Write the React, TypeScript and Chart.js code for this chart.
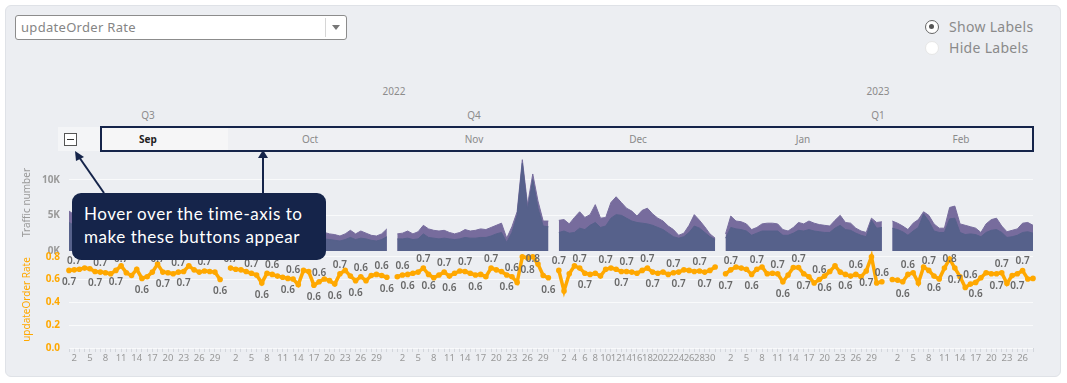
import React, { useEffect, useRef } from 'react';
import { Chart, registerables } from 'chart.js';

Chart.register(...registerables);

// ---------- data ----------
const monthNames = ['Sep', 'Oct', 'Nov', 'Dec', 'Jan', 'Feb'];

// updateOrder Rate, daily
const rateSep = [0.68, 0.685, 0.69, 0.70, 0.695, 0.67, 0.665, 0.66, 0.65, 0.68, 0.72, 0.66, 0.635, 0.69, 0.61, 0.625, 0.665, 0.735, 0.665, 0.66, 0.65, 0.665, 0.67, 0.72, 0.685, 0.665, 0.675, 0.67, 0.665, 0.60];
const rateOct = [0.70, 0.69, 0.685, 0.67, 0.655, 0.64, 0.57, 0.655, 0.645, 0.63, 0.62, 0.61, 0.605, 0.555, 0.68, 0.67, 0.55, 0.58, 0.605, 0.59, 0.56, 0.65, 0.68, 0.63, 0.59, 0.625, 0.59, 0.635, 0.645, 0.635, 0.62];
const rateNov = [0.625, 0.64, 0.645, 0.655, 0.665, 0.70, 0.645, 0.615, 0.64, 0.665, 0.63, 0.655, 0.675, 0.67, 0.655, 0.64, 0.645, 0.625, 0.70, 0.685, 0.67, 0.64, 0.625, 0.575, 0.80, 0.79, 0.80, 0.735, 0.635, 0.615];
const rateDec = [0.68, 0.50, 0.65, 0.72, 0.70, 0.655, 0.645, 0.655, 0.63, 0.69, 0.70, 0.69, 0.67, 0.67, 0.665, 0.655, 0.68, 0.70, 0.665, 0.655, 0.665, 0.645, 0.66, 0.665, 0.685, 0.68, 0.67, 0.675, 0.665, 0.68, 0.71];
const rateJan = [0.65, 0.685, 0.71, 0.70, 0.69, 0.645, 0.69, 0.71, 0.65, 0.655, 0.65, 0.58, 0.64, 0.705, 0.705, 0.65, 0.625, 0.57, 0.60, 0.63, 0.67, 0.72, 0.665, 0.645, 0.63, 0.645, 0.625, 0.675, 0.80, 0.57, 0.58];
const rateFeb = [0.60, 0.595, 0.58, 0.645, 0.66, 0.57, 0.71, 0.68, 0.63, 0.605, 0.70, 0.78, 0.70, 0.625, 0.53, 0.56, 0.575, 0.615, 0.66, 0.65, 0.65, 0.66, 0.565, 0.635, 0.65, 0.678, 0.605, 0.61];

// Traffic number (thousands), total
const totalSep = [5.6, 5.1, 4.8, 5.0, 4.6, 4.3, 4.5, 4.2, 4.0, 4.3, 4.1, 3.9, 3.6, 3.8, 4.0, 3.7, 3.5, 3.6, 3.9, 3.4, 3.2, 3.5, 3.3, 3.1, 3.4, 3.2, 3.0, 2.9, 3.3, 3.1];
const totalOct = [3.2, 3.0, 3.4, 3.1, 2.9, 2.8, 3.3, 3.0, 2.7, 2.9, 3.1, 2.8, 2.6, 2.9, 3.0, 2.7, 2.6, 2.5, 2.6, 2.4, 2.3, 2.1, 2.4, 2.9, 2.4, 2.8, 2.5, 2.2, 2.1, 2.4, 3.1];
const totalNov = [2.4, 2.5, 2.8, 2.4, 2.7, 3.6, 3.1, 2.9, 2.8, 2.9, 2.6, 2.4, 2.6, 3.0, 2.8, 2.9, 3.1, 3.0, 3.3, 3.6, 3.9, 1.8, 3.4, 5.5, 12.8, 6.5, 10.8, 7.0, 4.2, 4.2];
const totalDec = [4.3, 4.4, 3.8, 4.7, 5.5, 4.7, 5.1, 6.5, 4.6, 4.7, 6.8, 7.6, 6.8, 6.0, 5.6, 4.9, 5.7, 6.0, 5.2, 4.6, 4.2, 3.5, 3.0, 2.2, 2.5, 3.6, 5.1, 4.3, 3.4, 2.4, 1.8];
const totalJan = [2.4, 4.9, 4.2, 4.1, 3.8, 3.0, 3.3, 3.8, 3.9, 3.9, 3.8, 3.0, 2.8, 3.3, 4.0, 3.8, 4.2, 3.9, 3.7, 3.6, 3.5, 4.3, 5.0, 4.0, 3.9, 3.2, 2.8, 2.6, 4.6, 4.0, 4.1];
const totalFeb = [4.2, 3.9, 3.5, 3.0, 3.9, 4.4, 5.5, 5.0, 3.8, 3.2, 3.2, 6.1, 6.3, 3.8, 3.6, 3.4, 3.2, 2.6, 3.8, 4.4, 4.6, 3.5, 2.7, 2.9, 3.1, 3.9, 4.0, 3.6];

// Traffic number (thousands), lower segment
const baseSep = [4.0, 3.6, 3.4, 3.5, 3.2, 3.0, 3.1, 2.9, 2.8, 3.0, 2.8, 2.7, 2.5, 2.6, 2.8, 2.5, 2.4, 2.5, 2.7, 2.3, 2.2, 2.4, 2.3, 2.1, 2.3, 2.2, 2.0, 1.9, 2.2, 2.1];
const baseOct = [2.0, 1.9, 2.1, 1.9, 1.8, 1.8, 2.0, 1.9, 1.7, 1.8, 1.9, 1.7, 1.6, 1.8, 1.9, 1.7, 1.6, 1.6, 1.7, 1.6, 1.5, 1.4, 1.6, 1.9, 1.6, 1.8, 1.7, 1.5, 1.4, 1.6, 2.0];
const baseNov = [1.7, 1.7, 1.8, 1.6, 1.7, 2.4, 1.9, 1.8, 1.7, 1.8, 1.7, 1.6, 1.7, 1.9, 1.8, 1.8, 1.9, 1.9, 2.1, 2.4, 2.6, 1.2, 2.6, 5.0, 12.3, 5.8, 10.0, 6.0, 3.5, 3.4];
const baseDec = [2.6, 2.8, 2.5, 2.6, 3.2, 3.0, 3.6, 4.0, 3.3, 3.5, 4.6, 5.1, 5.0, 4.6, 4.2, 4.0, 3.9, 3.8, 3.6, 3.3, 3.0, 2.5, 2.0, 1.8, 2.0, 2.6, 3.5, 3.2, 2.6, 2.0, 1.6];
const baseJan = [1.8, 3.3, 3.1, 3.0, 2.8, 2.2, 2.5, 2.8, 2.8, 2.8, 2.8, 2.2, 2.2, 2.5, 2.9, 2.8, 3.0, 2.8, 2.7, 2.6, 2.6, 3.2, 3.6, 3.0, 2.9, 2.5, 2.2, 2.0, 4.3, 3.2, 3.3];
const baseFeb = [3.2, 3.0, 2.7, 2.2, 2.8, 3.3, 5.2, 4.2, 2.8, 2.6, 2.6, 4.5, 4.6, 2.6, 2.3, 2.4, 2.3, 2.0, 2.6, 2.9, 3.0, 2.6, 1.9, 2.0, 2.2, 2.6, 2.7, 2.5];

const rateByMonth = [rateSep, rateOct, rateNov, rateDec, rateJan, rateFeb];
const totalByMonth = [totalSep, totalOct, totalNov, totalDec, totalJan, totalFeb];
const baseByMonth = [baseSep, baseOct, baseNov, baseDec, baseJan, baseFeb];

const trafficTicks = [0, 5, 10];
const rateTicks = [0, 0.2, 0.4, 0.6, 0.8];

const yearLabels = [
  { text: '2022', x: 394 },
  { text: '2023', x: 878 },
];
const quarterLabels = [
  { text: 'Q3', x: 148 },
  { text: 'Q4', x: 474 },
  { text: 'Q1', x: 878 },
];
const monthCenters = [148, 310, 474, 638, 803, 961];

const ORANGE = '#FFA800';
const NAVY = '#15244a';
const FONT = "'Noto Sans', 'DejaVu Sans', sans-serif";

const rateLabelPlugin = {
  id: 'rateLabels',
  afterDatasetsDraw(chart: any) {
    const meta = chart.getDatasetMeta(0);
    const data = chart.data.datasets[0].data as (number | null)[];
    const ctx = chart.ctx;
    const top = chart.scales.yRate.top;
    ctx.save();
    ctx.font = `600 10px ${FONT}`;
    ctx.fillStyle = '#686868';
    ctx.textAlign = 'center';
    ctx.textBaseline = 'middle';
    let lastA = -1e9;
    let lastB = -1e9;
    const gap = 17;
    meta.data.forEach((pt: any, i: number) => {
      const v = data[i];
      if (v == null) return;
      const nb: number[] = [];
      if (data[i - 1] != null) nb.push(data[i - 1] as number);
      if (data[i + 1] != null) nb.push(data[i + 1] as number);
      const avg = nb.length ? nb.reduce((a, b) => a + b, 0) / nb.length : v;
      const above = v >= avg;
      const txt = (Math.round(v * 10) / 10).toFixed(1);
      if (above && pt.x - lastA >= gap) {
        ctx.fillText(txt, pt.x, Math.max(pt.y - 9, top + 8));
        lastA = pt.x;
      } else if (!above && pt.x - lastB >= gap) {
        ctx.fillText(txt, pt.x, pt.y + 12);
        lastB = pt.x;
      }
    });
    ctx.restore();
  },
};

const noPad = (s: any) => {
  s.paddingTop = 0;
  s.paddingBottom = 0;
  s.paddingLeft = 0;
  s.paddingRight = 0;
};

export default function App() {
  const ref = useRef<HTMLCanvasElement>(null);

  useEffect(() => {
    const labels: string[] = [];
    const tickText: string[] = [];
    const rate: (number | null)[] = [];
    const total: (number | null)[] = [];
    const base: (number | null)[] = [];
    monthNames.forEach((m, mi) => {
      if (mi > 0) {
        labels.push('');
        tickText.push('');
        rate.push(null);
        total.push(null);
        base.push(null);
      }
      rateByMonth[mi].forEach((v, di) => {
        const day = di + 1;
        labels.push(`${m} ${day}`);
        const show = m === 'Dec' ? day % 2 === 0 : day % 3 === 2;
        tickText.push(show ? String(day) : '');
        rate.push(v);
        total.push(totalByMonth[mi][di]);
        base.push(baseByMonth[mi][di]);
      });
    });

    Chart.defaults.font.family = FONT;

    const chart = new Chart(ref.current as HTMLCanvasElement, {
      type: 'line',
      data: {
        labels,
        datasets: [
          {
            label: 'updateOrder Rate',
            data: rate,
            yAxisID: 'yRate',
            borderColor: ORANGE,
            backgroundColor: ORANGE,
            borderWidth: 3.5,
            pointRadius: 2.8,
            pointBorderWidth: 0,
            pointBackgroundColor: ORANGE,
            fill: false,
            spanGaps: false,
            tension: 0,
          },
          {
            label: 'Traffic base',
            data: base,
            yAxisID: 'yTraffic',
            borderColor: '#56618b',
            backgroundColor: '#56618b',
            borderWidth: 1,
            pointRadius: 0,
            fill: 'origin',
            spanGaps: false,
            tension: 0,
          },
          {
            label: 'Traffic number',
            data: total,
            yAxisID: 'yTraffic',
            borderColor: '#776c9d',
            backgroundColor: '#776c9d',
            borderWidth: 1,
            pointRadius: 0,
            fill: 'origin',
            spanGaps: false,
            tension: 0,
          },
        ],
      },
      options: {
        animation: false,
        responsive: false,
        maintainAspectRatio: false,
        layout: { padding: { left: 0, right: 34, top: 2, bottom: 0 } },
        plugins: { legend: { display: false }, tooltip: { enabled: false } },
        scales: {
          x: {
            type: 'category',
            offset: false,
            border: { display: false },
            grid: {
              display: true,
              drawOnChartArea: false,
              drawTicks: true,
              tickLength: 4,
              color: '#d3d6dc',
            },
            ticks: {
              autoSkip: false,
              maxRotation: 0,
              minRotation: 0,
              padding: 1,
              color: '#999999',
              font: { size: 9.5 },
              callback: (_v: any, i: number) => tickText[i],
            },
            afterFit: (s: any) => {
              noPad(s);
              s.height = 17;
            },
          },
          yTraffic: {
            type: 'linear',
            position: 'left',
            stack: 'v',
            stackWeight: 1,
            weight: 2,
            min: 0,
            max: 13.6,
            border: { display: false },
            grid: {
              drawTicks: false,
              color: (c: any) => (c.tick && c.tick.value === 0 ? 'rgba(0,0,0,0)' : 'rgba(255,255,255,0.7)'),
            },
            ticks: {
              autoSkip: false,
              padding: 9,
              color: '#9a9a9a',
              font: { size: 10, weight: 'bold' },
              callback: (v: any) => `${v}K`,
            },
            afterBuildTicks: (s: any) => {
              s.ticks = trafficTicks.map((value) => ({ value }));
            },
            title: {
              display: true,
              text: 'Traffic number',
              color: '#9a9a9a',
              font: { size: 10 },
              padding: { top: 21, bottom: 0 },
            },
            afterFit: (s: any) => {
              noPad(s);
              s.width = 69;
            },
          },
          yRate: {
            type: 'linear',
            position: 'left',
            stack: 'v',
            stackWeight: 1,
            weight: 1,
            min: 0,
            max: 0.85,
            border: { display: false },
            grid: {
              drawTicks: false,
              color: 'rgba(255,255,255,0.7)',
            },
            ticks: {
              autoSkip: false,
              padding: 9,
              color: ORANGE,
              font: { size: 10, weight: 'bold' },
              callback: (v: any) => Number(v).toFixed(1),
            },
            afterBuildTicks: (s: any) => {
              s.ticks = rateTicks.map((value) => ({ value }));
            },
            title: {
              display: true,
              text: 'updateOrder Rate',
              color: ORANGE,
              font: { size: 10 },
              padding: { top: 21, bottom: 0 },
            },
            afterFit: (s: any) => {
              noPad(s);
              s.width = 69;
            },
          },
        },
      } as any,
      plugins: [rateLabelPlugin],
    });
    return () => chart.destroy();
  }, []);

  const txt = (s: React.CSSProperties): React.CSSProperties => ({ position: 'absolute', whiteSpace: 'nowrap', ...s });

  return (
    <div style={{ position: 'absolute', left: 0, top: 0, width: 1067, height: 383, background: '#fff', overflow: 'hidden', fontFamily: FONT }}>
      {/* panel */}
      <div style={{ position: 'absolute', left: 5, top: 5, width: 1056, height: 372, background: '#eceef2', border: '1px solid #dfe2e7', borderRadius: 6, boxSizing: 'border-box' }} />

      {/* dropdown */}
      <div style={{ position: 'absolute', left: 15, top: 15, width: 332, height: 25, background: '#fff', border: '1px solid #8c8c8c', borderRadius: 3, boxSizing: 'border-box' }}>
        <div style={txt({ left: 5, top: 3, fontSize: 13, color: '#858585', lineHeight: '17px', letterSpacing: 0.3 })}>updateOrder Rate</div>
        <div style={{ position: 'absolute', left: 309, top: 2, width: 1, height: 19, background: '#d6d6d6' }} />
        <div style={{ position: 'absolute', left: 316, top: 9, width: 0, height: 0, borderLeft: '4px solid transparent', borderRight: '4px solid transparent', borderTop: '5px solid #777' }} />
      </div>

      {/* radio buttons */}
      <div style={{ position: 'absolute', left: 925, top: 20, width: 14, height: 14, borderRadius: '50%', background: '#fff', border: '1.5px solid #666', boxSizing: 'border-box' }}>
        <div style={{ position: 'absolute', left: 3, top: 3, width: 5, height: 5, borderRadius: '50%', background: '#555' }} />
      </div>
      <div style={txt({ left: 949, top: 18, fontSize: 14, color: '#8a8a8a', lineHeight: '18px', letterSpacing: 0.3 })}>Show Labels</div>
      <div style={{ position: 'absolute', left: 925, top: 41, width: 14, height: 14, borderRadius: '50%', background: '#fff', border: '1px solid #e6e6e6', boxSizing: 'border-box' }} />
      <div style={txt({ left: 949, top: 39, fontSize: 14, color: '#8a8a8a', lineHeight: '18px', letterSpacing: 0.3 })}>Hide Labels</div>

      {/* year & quarter headers */}
      {yearLabels.map((y) => (
        <div key={y.text} style={txt({ left: y.x - 30, width: 60, textAlign: 'center', top: 84, fontSize: 10, color: '#8c8c8c', lineHeight: '14px' })}>{y.text}</div>
      ))}
      {quarterLabels.map((q) => (
        <div key={q.text} style={txt({ left: q.x - 30, width: 60, textAlign: 'center', top: 108, fontSize: 10, color: '#8c8c8c', lineHeight: '14px' })}>{q.text}</div>
      ))}

      {/* collapse button area */}
      <div style={{ position: 'absolute', left: 58, top: 127, width: 42, height: 24, background: '#f4f5f7' }} />
      <div style={{ position: 'absolute', left: 64, top: 133, width: 13, height: 13, background: '#fff', border: '1px solid #555', boxSizing: 'border-box' }}>
        <div style={{ position: 'absolute', left: 2, top: 5, width: 7, height: 1, background: '#333' }} />
      </div>

      {/* month header band */}
      <div style={{ position: 'absolute', left: 100, top: 126, width: 934, height: 26, background: '#eff0f3', border: `2px solid ${NAVY}`, boxSizing: 'border-box', overflow: 'hidden' }}>
        <div style={{ position: 'absolute', left: 0, top: 0, width: 126, height: 22, background: '#f6f6f7' }} />
        {monthNames.map((m, i) => (
          <div key={m} style={txt({ left: monthCenters[i] - 102 - 30, width: 60, textAlign: 'center', top: 4, fontSize: 10, lineHeight: '14px', color: i === 0 ? '#222' : '#8a8a8a', fontWeight: i === 0 ? 700 : 400 })}>{m}</div>
        ))}
      </div>

      {/* chart */}
      <canvas ref={ref} width={1067} height={215} style={{ position: 'absolute', left: 0, top: 150, width: 1067, height: 215 }} />

      {/* annotation */}
      <svg width={1067} height={383} style={{ position: 'absolute', left: 0, top: 0, pointerEvents: 'none' }}>
        <line x1={104} y1={193} x2={79} y2={157} stroke={NAVY} strokeWidth={2} />
        <polygon points="75,151 84,157 76,161" fill={NAVY} />
        <line x1={263} y1={194} x2={263} y2={157} stroke={NAVY} strokeWidth={2} />
        <polygon points="263,150 268,158 258,158" fill={NAVY} />
      </svg>
      <div style={{ position: 'absolute', left: 72, top: 193, width: 254, height: 67, background: NAVY, borderRadius: 9, boxSizing: 'border-box', padding: '9px 0 0 12px', color: '#fff', fontFamily: "Lato, 'Noto Sans', sans-serif", fontSize: 17, lineHeight: '23px', letterSpacing: 0.55 }}>
        <div>Hover over the time-axis to</div>
        <div>make these buttons appear</div>
      </div>
    </div>
  );
}
